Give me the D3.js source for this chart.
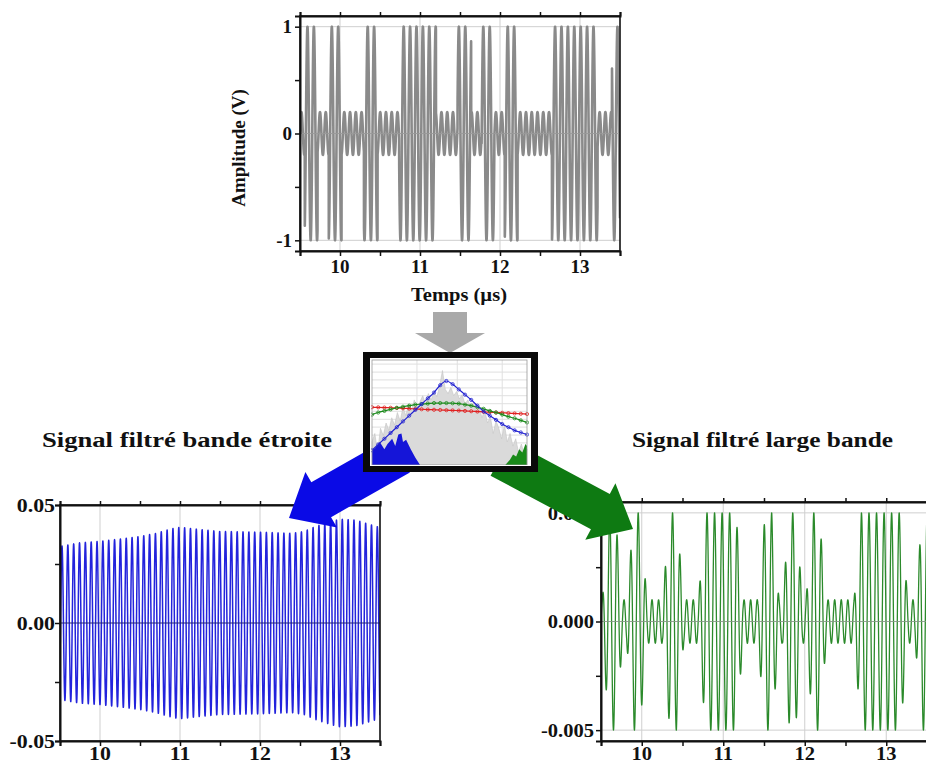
<!DOCTYPE html>
<html><head><meta charset="utf-8">
<script src="https://cdn.jsdelivr.net/npm/d3@7"></script>
<style>
body{margin:0;background:#fff}
svg{display:block}
text{font-family:"Liberation Serif","Times New Roman",serif;font-weight:bold;fill:#111}
</style>
</head><body>
<svg id="c" width="926" height="764"></svg>
<script>
// ---------------- DATA ----------------
const timeDomain = [9.5, 13.5];
const timeMajorTicks = [10, 11, 12, 13];
const timeMinorTicks = [9.5, 10, 10.5, 11, 11.5, 12, 12.5, 13, 13.5];

// symbol segments of the raw signal (μs) and their level
const segBounds = [9.5, 9.56, 9.72, 9.86, 10.02, 10.30, 10.47, 10.74, 11.20, 11.47, 11.64, 11.77, 11.93, 12.06, 12.22, 12.65, 13.22, 13.40, 13.5];
const segLevels = ["L","H","L","H","L","H","L","H","L","H","L","H","L","H","L","H","L","H"];

// raw signal
const rawAmpHigh = 1, rawAmpLow = 0.2;
const rawFreqHigh = 12.5, rawFreqLow = 13.9;      // MHz
const rawYTicks = [-1, 0, 1];
const rawYTickLabels = ["-1", "0", "1"];
const rawYMinor = [-1, -0.5, 0, 0.5, 1];

// wideband filtered
const wideAmpHigh = 0.005, wideAmpLow = 0.001;
const wideFreqHigh = 10.8, wideFreqLow = 12.4;   // MHz
const wideYTicks = [-0.005, 0, 0.005];
const wideYTickLabels = ["-0.005", "0.000", "0.005"];
const wideYMinor = [-0.005, -0.0025, 0, 0.0025, 0.005];

// narrowband filtered
const narrowFreq = 13.7;            // MHz
const narrowPeakTime = 9.525;
const narrowEnvT = [9.5, 9.75, 10.0, 10.3, 10.5, 10.7, 10.9, 11.0, 11.2, 11.5, 12.0, 12.4, 12.55, 12.7, 12.9, 13.0, 13.2, 13.35, 13.5];
const narrowEnvA = [0.0325, 0.034, 0.0346, 0.0358, 0.0367, 0.038, 0.040, 0.0406, 0.0398, 0.0388, 0.0385, 0.038, 0.0388, 0.041, 0.0432, 0.0440, 0.0436, 0.042, 0.0405];
const narrowYTicks = [-0.05, 0, 0.05];
const narrowYTickLabels = ["-0.05", "0.00", "0.05"];
const narrowYMinor = [-0.05, -0.025, 0, 0.025, 0.05];

// inset (filter responses over the spectrum), normalised
const insetX = [0,0.04,0.08,0.12,0.16,0.20,0.24,0.28,0.32,0.36,0.40,0.44,0.48,0.52,0.56,0.60,0.64,0.68,0.72,0.76,0.80,0.84,0.88,0.92,0.96,1.00];
const insetBlue  = [0.14,0.195,0.25,0.305,0.36,0.415,0.47,0.525,0.58,0.635,0.69,0.76,0.80,0.77,0.72,0.67,0.62,0.565,0.51,0.47,0.43,0.39,0.36,0.33,0.31,0.29];
const insetGreen = [0.48,0.50,0.515,0.53,0.545,0.555,0.565,0.575,0.58,0.585,0.59,0.59,0.59,0.588,0.585,0.575,0.565,0.55,0.535,0.515,0.50,0.48,0.46,0.445,0.425,0.405];
const insetRed   = [0.55,0.549,0.547,0.545,0.543,0.54,0.537,0.534,0.531,0.528,0.526,0.524,0.522,0.52,0.518,0.515,0.512,0.509,0.506,0.503,0.50,0.497,0.494,0.491,0.488,0.485];
const spectrumVals = [0.22,0.30,0.12,0.35,0.28,0.40,0.33,0.45,0.38,0.50,0.42,0.55,0.47,0.58,0.52,0.62,0.55,0.60,0.66,0.58,0.68,0.62,0.70,0.65,0.75,0.90,0.72,0.68,0.74,0.66,0.70,0.63,0.67,0.58,0.62,0.55,0.60,0.50,0.56,0.45,0.52,0.40,0.46,0.30,0.42,0.35,0.25,0.38,0.22,0.30,0.18,0.25,0.12,0.20,0.10,0.15];
const blueFillX = [0, 0.02, 0.05, 0.08, 0.10, 0.13, 0.15, 0.17, 0.19, 0.20, 0.22, 0.25, 0.28, 0.31];
const blueFillY = [0.14, 0.16, 0.22, 0.15, 0.20, 0.25, 0.18, 0.29, 0.30, 0.22, 0.24, 0.15, 0.07, 0];
const greenFillX = [0.86, 0.89, 0.91, 0.93, 0.95, 0.97, 0.99, 1.0];
const greenFillY = [0, 0.05, 0.10, 0.08, 0.15, 0.12, 0.20, 0.18];

const titleNarrow = "Signal filtré bande étroite";
const titleWide = "Signal filtré large bande";
const yLabelTop = "Amplitude (V)";
const xLabelTop = "Temps (µs)";

// ---------------- SIGNAL SAMPLING ----------------
const dt = 0.001;
const tSamples = d3.range(timeDomain[0], timeDomain[1] + dt/2, dt);
function levelAt(t){
  for (let i = 0; i < segLevels.length; i++) if (t < segBounds[i+1] || i === segLevels.length-1) return segLevels[i];
}
function highFraction(t, w){ // share of [t-w,t+w] lying in H segments
  let s = 0;
  for (let i = 0; i < segLevels.length; i++){
    if (segLevels[i] !== "H") continue;
    const a = Math.max(segBounds[i], t - w), b = Math.min(segBounds[i+1], t + w);
    if (b > a) s += b - a;
  }
  if (t - w < timeDomain[0] && segLevels[0] === "H") s += timeDomain[0] - (t - w);
  if (t + w > timeDomain[1] && segLevels[segLevels.length-1] === "H") s += (t + w) - timeDomain[1];
  return s / (2*w);
}
let ph = 0;
const rawData = tSamples.map(t => {
  const lv = levelAt(t);
  const v = (lv === "H" ? rawAmpHigh : rawAmpLow) * Math.sin(ph);
  ph += 2*Math.PI*(lv === "H" ? rawFreqHigh : rawFreqLow)*dt;
  return [t, v];
});
ph = 0;
const wideData = tSamples.map(t => {
  const h = highFraction(t, 0.045);
  const a = wideAmpLow + (wideAmpHigh - wideAmpLow)*h;
  const v = a*Math.sin(ph);
  ph += 2*Math.PI*(wideFreqLow + (wideFreqHigh - wideFreqLow)*h)*dt;
  return [t, v];
});
const envScale = d3.scaleLinear().domain(narrowEnvT).range(narrowEnvA).clamp(true);
const narrowData = tSamples.map(t => [t, envScale(t)*Math.cos(2*Math.PI*narrowFreq*(t - narrowPeakTime))]);

// ---------------- DRAWING ----------------
const svg = d3.select("#c");
let clipId = 0;

function panel(o){
  const x = d3.scaleLinear().domain(timeDomain).range([o.left, o.right]);
  const y = d3.scaleLinear().domain(o.yDomain).range([o.bottom, o.top]);
  const g = svg.append("g");
  g.selectAll(".gx").data(timeMajorTicks).join("line")
    .attr("x1", d => x(d)).attr("x2", d => x(d)).attr("y1", o.top).attr("y2", o.bottom)
    .attr("stroke", "#cfcfcf").attr("stroke-width", 1);
  g.selectAll(".gy").data(o.yGrid).join("line")
    .attr("x1", o.left).attr("x2", o.right).attr("y1", d => y(d)).attr("y2", d => y(d))
    .attr("stroke", "#cfcfcf").attr("stroke-width", 1);
  const id = "clip" + (clipId++);
  svg.append("clipPath").attr("id", id).append("rect")
    .attr("x", o.left).attr("y", o.top).attr("width", o.right - o.left).attr("height", o.bottom - o.top);
  g.append("path").datum(o.data)
    .attr("clip-path", `url(#${id})`)
    .attr("fill", "none").attr("stroke", o.color).attr("stroke-width", o.sw)
    .attr("stroke-linejoin", "round")
    .attr("d", d3.line().x(d => x(d[0])).y(d => y(d[1])));
  g.append("line").attr("x1", o.left).attr("x2", o.right).attr("y1", y(0)).attr("y2", y(0))
    .attr("stroke", o.zeroColor).attr("stroke-width", 0.8);
  g.append("rect").attr("x", o.left).attr("y", o.top).attr("width", o.right - o.left).attr("height", o.bottom - o.top)
    .attr("fill", "none").attr("stroke", "#111").attr("stroke-width", 1.6);
  const axB = g.append("g").attr("transform", `translate(0,${o.bottom})`)
    .call(d3.axisBottom(x).tickValues(timeMinorTicks).tickSize(5).tickFormat(""));
  const axT = g.append("g").attr("transform", `translate(0,${o.top})`)
    .call(d3.axisTop(x).tickValues(timeMinorTicks).tickSize(4).tickFormat(""));
  const axL = g.append("g").attr("transform", `translate(${o.left},0)`)
    .call(d3.axisLeft(y).tickValues(o.yMinor).tickSize(5).tickFormat(""));
  [axB, axT, axL].forEach(a => { a.select(".domain").attr("stroke", "#111").attr("stroke-width", 2); a.selectAll(".tick line").attr("stroke", "#111").attr("stroke-width", 1.5); });
  g.selectAll(".yl").data(o.yTicks).join("text")
    .attr("transform", d => `translate(${o.left - o.yLabelGap},${y(d)}) scale(${o.sx},1)`)
    .attr("dy", "0.35em")
    .attr("text-anchor", "end").attr("font-size", o.fs)
    .text((d, i) => o.yTickLabels[i]);
  g.selectAll(".xl").data(timeMajorTicks).join("text")
    .attr("transform", d => `translate(${x(d)},${o.xLabelY}) scale(${o.sx},1)`)
    .attr("text-anchor", "middle").attr("font-size", o.fs)
    .text(d => String(d));
  return {x, y};
}

panel({left: 300, right: 620, top: 16, bottom: 251, yDomain: [-1.1, 1.1],
  data: rawData, color: "#8a8a8a", sw: 2.6, zeroColor: "#9a9a9a",
  yGrid: rawYTicks, yTicks: rawYTicks, yTickLabels: rawYTickLabels, yMinor: rawYMinor,
  yLabelGap: 8, fs: 19, sx: 1, xLabelY: 273});

svg.append("text").attr("transform", "translate(245,148) rotate(-90)")
  .attr("text-anchor", "middle").attr("font-size", 19).text(yLabelTop);
svg.append("text").attr("x", 411).attr("y", 301).attr("font-size", 18)
  .attr("textLength", 96).attr("lengthAdjust", "spacingAndGlyphs").text(xLabelTop);

panel({left: 60, right: 380, top: 505, bottom: 741, yDomain: [-0.05, 0.05],
  data: narrowData, color: "#2323dc", sw: 1.5, zeroColor: "#1a1a70",
  yGrid: [0], yTicks: narrowYTicks, yTickLabels: narrowYTickLabels, yMinor: narrowYMinor,
  yLabelGap: 5, fs: 19, sx: 1.15, xLabelY: 760});

panel({left: 601, right: 927, top: 502, bottom: 741, yDomain: [-0.0055, 0.0055],
  data: wideData, color: "#2b8a2b", sw: 1.3, zeroColor: "#8a9a8a",
  yGrid: wideYTicks, yTicks: wideYTicks, yTickLabels: wideYTickLabels, yMinor: wideYMinor,
  yLabelGap: 7, fs: 19, sx: 1.08, xLabelY: 760});

// titles (glyphs stretched horizontally like the reference)
svg.append("text").attr("transform", "translate(42,447) scale(1.15,1)").attr("font-size", 21)
  .attr("textLength", 290/1.15).attr("lengthAdjust", "spacingAndGlyphs").text(titleNarrow);
svg.append("text").attr("transform", "translate(632,447) scale(1.15,1)").attr("font-size", 21)
  .attr("textLength", 261/1.15).attr("lengthAdjust", "spacingAndGlyphs").text(titleWide);

// arrows
function arrowPath(tail, tip, headLen, headHalf, shaftHalf){
  const dx = tip[0]-tail[0], dy = tip[1]-tail[1], L = Math.hypot(dx, dy);
  const u = [dx/L, dy/L], n = [-u[1], u[0]];
  const p = (a, b) => [tip[0] + a*u[0] + b*n[0], tip[1] + a*u[1] + b*n[1]];
  const pts = [
    [tail[0] + shaftHalf*n[0], tail[1] + shaftHalf*n[1]],
    p(-headLen, shaftHalf), p(-headLen, headHalf), tip,
    p(-headLen, -headHalf), p(-headLen, -shaftHalf),
    [tail[0] - shaftHalf*n[0], tail[1] - shaftHalf*n[1]]
  ];
  return d3.line()(pts) + "Z";
}
svg.append("path").attr("d", arrowPath([400, 455], [289, 518], 37, 32, 20)).attr("fill", "#0a0ae6");
svg.append("path").attr("d", arrowPath([500, 458], [633, 529], 37, 32, 20)).attr("fill", "#0e7a12");
svg.append("path").attr("d", d3.line()([[433,312],[467,312],[467,333],[485,333],[450,353],[415,333],[433,333]]) + "Z").attr("fill", "#a9a9a9");

// inset
svg.append("rect").attr("x", 363).attr("y", 352).attr("width", 175).attr("height", 120).attr("fill", "#0a0a0a");
svg.append("rect").attr("x", 370).attr("y", 358).attr("width", 161).attr("height", 108).attr("fill", "#fff");
const ix = d3.scaleLinear().domain([0, 1]).range([372, 527]);
const iy = d3.scaleLinear().domain([0, 1]).range([465, 360]);
const ig = svg.append("g");
svg.append("clipPath").attr("id", "iclip").append("rect").attr("x", 371).attr("y", 359).attr("width", 158).attr("height", 106);
ig.attr("clip-path", "url(#iclip)");
ig.selectAll(".ih").data(d3.range(0.06, 1, 0.075)).join("line")
  .attr("x1", 372).attr("x2", 527).attr("y1", d => iy(d)).attr("y2", d => iy(d))
  .attr("stroke", "#e6e6e6").attr("stroke-width", 1.2);
ig.selectAll(".iv").data([0.29, 0.55, 0.84]).join("line")
  .attr("x1", d => ix(d)).attr("x2", d => ix(d)).attr("y1", 360).attr("y2", 465)
  .attr("stroke", "#e0e0e0").attr("stroke-width", 1);
const specX = d3.scaleLinear().domain([0, spectrumVals.length - 1]).range([0, 1]);
ig.append("path").datum(spectrumVals)
  .attr("fill", "#dadada").attr("stroke", "#c4c4c4").attr("stroke-width", 0.6)
  .attr("d", d3.area().x((d, i) => ix(specX(i))).y0(iy(0)).y1(d => iy(d)));
ig.append("path").datum(blueFillX.map((v, i) => [v, blueFillY[i]]))
  .attr("fill", "#1515d8")
  .attr("d", d3.area().x(d => ix(d[0])).y0(iy(0)).y1(d => iy(d[1])));
ig.append("path").datum(greenFillX.map((v, i) => [v, greenFillY[i]]))
  .attr("fill", "#1a8a1a")
  .attr("d", d3.area().x(d => ix(d[0])).y0(iy(0)).y1(d => iy(d[1])));
[[insetRed, "#e02020"], [insetGreen, "#1a8a1a"], [insetBlue, "#2020d0"]].forEach(([vals, col]) => {
  const pts = insetX.map((v, i) => [v, vals[i]]);
  ig.append("path").datum(pts).attr("fill", "none").attr("stroke", col).attr("stroke-width", 1.2)
    .attr("d", d3.line().x(d => ix(d[0])).y(d => iy(d[1])).curve(d3.curveMonotoneX));
  ig.selectAll(null).data(pts).join("circle").attr("cx", d => ix(d[0])).attr("cy", d => iy(d[1])).attr("r", 1.6)
    .attr("fill", "none").attr("stroke", col).attr("stroke-width", 0.8);
});
ig.append("rect").attr("x", 372).attr("y", 360).attr("width", 155).attr("height", 105)
  .attr("fill", "none").attr("stroke", "#999").attr("stroke-width", 0.8);
</script>
</body></html>
